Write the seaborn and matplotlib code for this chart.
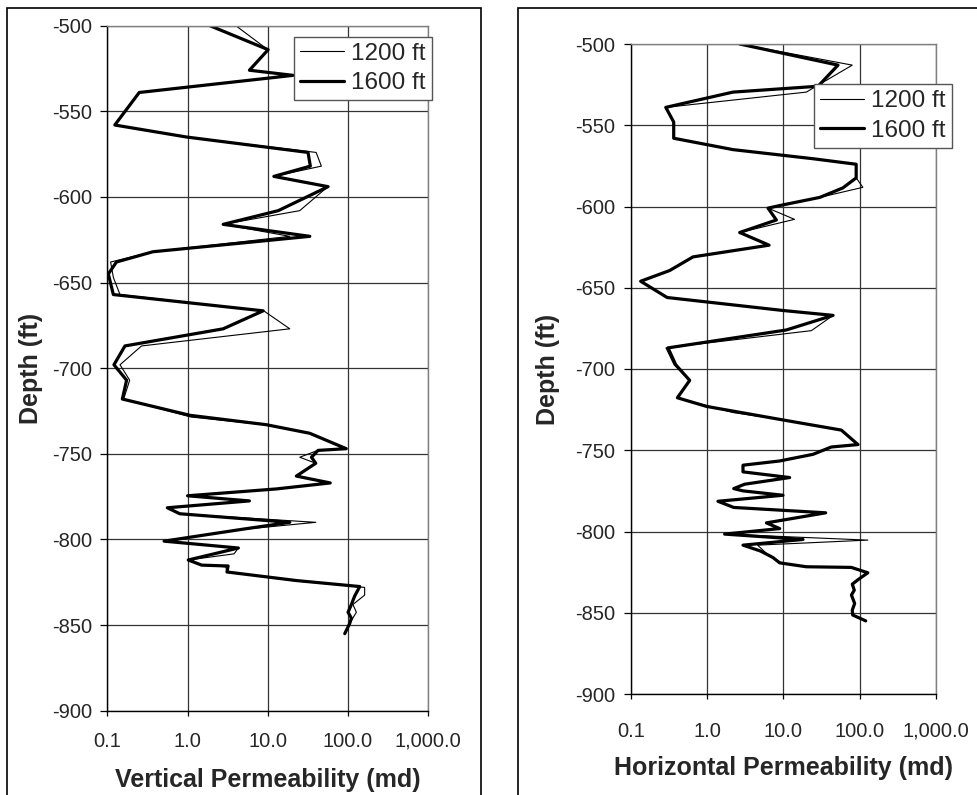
import matplotlib
matplotlib.use("Agg")
import matplotlib.pyplot as plt
import matplotlib.ticker as mticker
from matplotlib.patches import Rectangle
import seaborn as sns
import pandas as pd

# ---------------- data ----------------
series_names = ["1200 ft", "1600 ft"]

# Vertical permeability, 1200 ft
v1200_depth = [-500, -514, -526, -529, -539, -558, -565, -574, -582, -588, -594, -608, -616, -623,
               -632, -638, -647, -657, -666.5, -677, -687, -698, -707, -718, -728.5, -733, -738,
               -747, -748, -752, -755.5, -763, -767, -770.5, -774.5, -777.5, -781.5, -785, -790,
               -794, -801, -805, -808.4, -812, -815, -816, -819, -824, -828, -832.5, -838, -842.5,
               -849, -855]
v1200_perm = [4.0, 10.0, 5.9, 20.0, 0.25, 0.124, 0.97, 40.0, 46.5, 11.9, 56.0, 25.0, 2.78, 18.8,
              0.37, 0.11, 0.119, 0.144, 8.9, 18.8, 0.267, 0.144, 0.19, 0.16, 1.1, 9.0, 33.0,
              95.0, 42.0, 25.0, 39.6, 22.7, 60.0, 12.8, 1.0, 5.9, 0.56, 0.8, 39.6,
              5.2, 0.51, 4.3, 3.8, 1.02, 1.57, 3.0, 3.1, 20.0, 161.0, 161.0, 115.0, 127.0,
              105.0, 91.0]

# Vertical permeability, 1600 ft
v1600_depth = [-500, -514, -526, -529, -539, -558, -565, -574, -582, -588, -594, -608, -616, -623,
               -632, -638, -645, -657, -666.5, -677, -687, -698, -707, -718, -727.5, -733, -738,
               -747, -748, -752, -755.5, -763, -767, -770.5, -774.5, -777.5, -781.5, -785, -790,
               -794, -801, -805, -812, -815, -815.5, -819, -824, -827.5, -833, -838, -842.5,
               -846, -849, -855]
v1600_perm = [1.9, 10.1, 5.9, 20.7, 0.25, 0.124, 0.97, 31.7, 33.9, 11.9, 56.4, 13.5, 2.78, 33.4,
              0.37, 0.13, 0.103, 0.119, 8.75, 2.78, 0.166, 0.121, 0.174, 0.154, 1.07, 9.6, 33.3,
              95.0, 42.3, 35.0, 39.6, 22.7, 60.0, 12.8, 1.0, 5.9, 0.56, 0.80, 18.8,
              4.9, 0.51, 4.3, 1.02, 1.5, 3.2, 3.1, 22.7, 140.0, 121.0, 110.0, 100.0,
              110.0, 105.0, 91.0]

# Horizontal permeability, 1200 ft
h1200_depth = [-500, -513, -529.6, -539, -548, -558, -565, -570.6, -574, -582.4, -588.2, -594.4,
               -599.4, -601, -607.9, -616, -623.8, -631, -639.4, -646, -656, -664, -667, -676.4,
               -687, -697.4, -707, -717.7, -726.8, -731, -737.6, -746.5, -748, -752.5, -756.6,
               -759.2, -763.3, -766.8, -770.9, -773.6, -775, -777.7, -781.4, -785.2, -788.5,
               -794.7, -798.2, -801.6, -805.3, -808.4, -815, -819.3, -821.7, -822.1, -825.4,
               -828.9, -832.4, -836.1, -839.1, -844.3, -848.4, -851.4, -855]
h1200_perm = [2.68, 80.0, 20.0, 0.288, 0.366, 0.366, 2.19, 24.5, 90.0, 90.0, 110.0, 30.0,
              9.0, 6.3, 14.0, 2.68, 6.5, 0.656, 0.324, 0.135, 0.30, 9.9, 44.8, 23.3,
              0.29, 0.37, 0.593, 0.409, 2.19, 8.95, 57.5, 95.0, 42.5, 24.5, 8.95,
              2.96, 2.96, 12.1, 3.11, 2.24, 2.96, 9.9, 1.39, 2.24, 35.9,
              6.0, 8.95, 1.70, 128.0, 4.6, 6.5, 9.5, 20.0, 75.0, 125.0,
              100.0, 80.0, 85.0, 78.0, 86.0, 80.0, 81.0, 120.0]

# Horizontal permeability, 1600 ft
h1600_depth = [-500, -513, -526, -529.6, -539, -548, -558, -565, -570.6, -574, -582.4, -588.6,
               -594.4, -599.4, -601, -608.3, -616, -623.8, -631, -639.4, -646, -656, -664, -667,
               -676, -687, -697.4, -707, -717.7, -723, -731, -737.6, -746.5, -748, -752.5,
               -756.6, -759.2, -763.3, -766.8, -770.9, -773.6, -775, -777.7, -781.4, -785.2,
               -788.5, -794.7, -798.2, -801.6, -804.9, -808.4, -812, -816, -819.3, -821.7,
               -822.1, -825.4, -828.9, -832.4, -836.1, -839.1, -844.3, -848.4, -851.4, -855]
h1600_perm = [2.68, 52.0, 28.5, 2.19, 0.288, 0.366, 0.366, 2.19, 24.5, 90.0, 90.0, 60.0,
              30.0, 9.0, 6.3, 8.1, 2.68, 6.5, 0.656, 0.324, 0.135, 0.30, 9.9, 44.8,
              10.9, 0.308, 0.389, 0.593, 0.409, 0.98, 8.95, 57.5, 95.0, 42.5, 24.5,
              8.95, 2.96, 2.96, 12.1, 3.11, 2.24, 2.96, 9.9, 1.39, 2.24,
              35.9, 6.0, 8.95, 1.70, 18.1, 2.96, 5.0, 7.3, 8.95, 20.0,
              77.8, 128.0, 100.0, 80.0, 85.0, 78.0, 86.0, 80.0, 81.0, 120.0]

x_ticks = [0.1, 1.0, 10.0, 100.0, 1000.0]
y_ticks = [-900, -850, -800, -750, -700, -650, -600, -550, -500]


def make_df(d12, p12, d16, p16):
    a = pd.DataFrame({"depth": d12, "perm": p12, "series": series_names[0]})
    b = pd.DataFrame({"depth": d16, "perm": p16, "series": series_names[1]})
    return pd.concat([a, b], ignore_index=True)


df_v = make_df(v1200_depth, v1200_perm, v1600_depth, v1600_perm)
df_h = make_df(h1200_depth, h1200_perm, h1600_depth, h1600_perm)

# ---------------- style ----------------
sns.set_style("white")
plt.rcParams["font.family"] = ["Liberation Sans", "DejaVu Sans"]
plt.rcParams["axes.unicode_minus"] = False

W, H = 977, 795
fig = plt.figure(figsize=(W / 100, H / 100), dpi=100)


def fx(px):
    return px / W


def fy(py):
    return 1 - py / H


# panel boxes
fig.patches.append(Rectangle((fx(7), fy(800)), fx(481) - fx(7), fy(8) - fy(800),
                             transform=fig.transFigure, fill=False, edgecolor="black", lw=1.2))
fig.patches.append(Rectangle((fx(518), fy(800)), fx(990) - fx(518), fy(8) - fy(800),
                             transform=fig.transFigure, fill=False, edgecolor="black", lw=1.2))

ax1 = fig.add_axes([fx(107.3), fy(710.7), fx(428.3) - fx(107.3), fy(25.7) - fy(710.7)])
ax2 = fig.add_axes([fx(630.7), fy(694), fx(936) - fx(630.7), fy(44) - fy(694)])

palette = {"1200 ft": "black", "1600 ft": "black"}
sizes = {"1200 ft": 0.8, "1600 ft": 2.3}


def draw(ax, df, xlabel, xpad, xlab_y, ylab_x, leg_anchor):
    sns.lineplot(data=df, x="perm", y="depth", hue="series", size="series",
                 sizes=sizes, palette=palette, sort=False, estimator=None,
                 ax=ax, legend=True)
    ax.set_xscale("log")
    ax.set_xlim(0.1, 1000)
    ax.set_ylim(-900, -500)
    ax.set_xticks(x_ticks)
    ax.xaxis.set_major_formatter(mticker.FuncFormatter(lambda v, p: f"{v:,.1f}"))
    ax.xaxis.set_minor_locator(mticker.NullLocator())
    ax.set_yticks(y_ticks)
    ax.yaxis.set_major_formatter(mticker.FuncFormatter(lambda v, p: f"{int(v)}"))
    ax.grid(True, which="major", color="#333333", lw=0.9)
    for s in ["left", "bottom"]:
        ax.spines[s].set_color("black")
        ax.spines[s].set_linewidth(1.0)
    for s in ["top", "right"]:
        ax.spines[s].set_color("#808080")
        ax.spines[s].set_linewidth(1.0)
    ax.tick_params(axis="y", direction="out", length=5, width=0.9, color="black",
                   labelsize=14.5, pad=6, left=True)
    ax.tick_params(axis="x", direction="out", length=3.5, width=0.9, color="black",
                   labelsize=14.5, pad=xpad, bottom=True)
    ax.set_xlabel(xlabel, fontsize=18, fontweight="bold")
    ax.set_ylabel("Depth (ft)", fontsize=18, fontweight="bold")
    ax.xaxis.set_label_coords(0.5, xlab_y)
    ax.yaxis.set_label_coords(ylab_x, 0.5)
    handles, labels = ax.get_legend_handles_labels()
    leg = ax.legend(handles, labels, loc="upper right",
                    bbox_to_anchor=leg_anchor, bbox_transform=fig.transFigure,
                    fontsize=17.5, frameon=True, fancybox=False, framealpha=1,
                    edgecolor="#555555", handlelength=1.8, handletextpad=0.3,
                    borderpad=0.25, labelspacing=0.3, borderaxespad=0)
    leg.get_frame().set_linewidth(1.0)
    for ln, nm in zip(leg.get_lines(), labels):
        ln.set_linewidth(sizes[nm])


draw(ax1, df_v, "Vertical Permeability (md)", 11.5, -0.084, -0.2, (fx(432), fy(36.7)))
draw(ax2, df_h, "Horizontal Permeability (md)", 16.5, -0.095, -0.232, (fx(951.7), fy(84.3)))

fig.savefig("out.png", dpi=100)
